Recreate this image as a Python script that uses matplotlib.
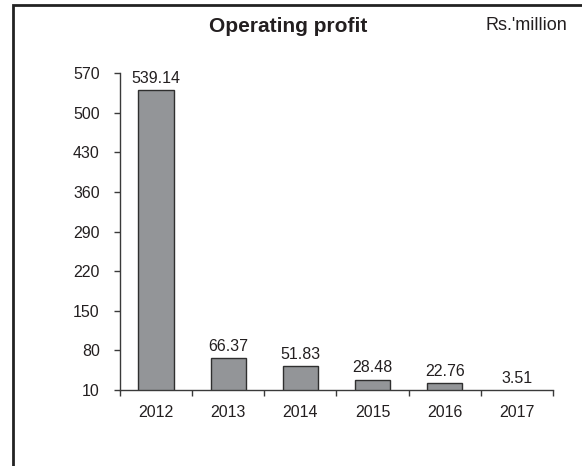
import numpy as np
import matplotlib
matplotlib.use("Agg")
import matplotlib.pyplot as plt
from matplotlib.patches import Rectangle

# data
years = ["2012", "2013", "2014", "2015", "2016", "2017"]
profit = [539.14, 66.37, 51.83, 28.48, 22.76, 3.51]
yticks = [10, 80, 150, 220, 290, 360, 430, 500, 570]

plt.rcParams['font.family'] = ['Liberation Sans', 'DejaVu Sans']
txt = '#231f20'
axcol = '#3a3a3a'

fig = plt.figure(figsize=(5.82, 4.66), dpi=100)
ax = fig.add_axes([120 / 582, 76 / 466, 433 / 582, 317 / 466])

x = np.arange(len(years))
ax.bar(x, profit, width=0.49, color='#939598', edgecolor='#2f2f2f', linewidth=1.0, zorder=2)

ymin, ymax = yticks[0], yticks[-1]
ax.set_ylim(ymin, ymax)
ax.set_xlim(-0.5, len(years) - 0.5)

# value labels above bars (bars below axis floor get label at the floor)
for xi, v in zip(x, profit):
    ax.annotate(f"{v:.2f}", (xi, max(v, ymin)), xytext=(0, 3), textcoords='offset points',
                ha='center', va='bottom', fontsize=11.5, color=txt)

ax.set_yticks(yticks)
ax.set_yticklabels([str(t) for t in yticks])
# ticks at category boundaries, labels at centres
ax.set_xticks(np.arange(-0.5, len(years), 1.0))
ax.set_xticklabels([])
ax.set_xticks(x, minor=True)
ax.set_xticklabels(years, minor=True)
ax.tick_params(axis='x', which='minor', length=0, pad=11, labelsize=11.5, labelcolor=txt)
ax.tick_params(axis='x', which='major', direction='out', length=4.5, width=1, color=axcol)
ax.tick_params(axis='y', direction='out', length=4.5, width=1, color=axcol, pad=10,
               labelsize=11.5, labelcolor=txt)

for s in ['top', 'right']:
    ax.spines[s].set_visible(False)
for s in ['left', 'bottom']:
    ax.spines[s].set_color(axcol)
    ax.spines[s].set_linewidth(1)

fig.text(288 / 582, 1 - 26 / 466, "Operating profit", ha='center', va='center',
         fontsize=15, fontweight='bold', color=txt)
fig.text(567 / 582, 1 - 25 / 466, "Rs.'million", ha='right', va='center',
         fontsize=13, color=txt)

# outer frame, runs off the right and bottom edges
fig.patches.append(Rectangle((12.5 / 582, -0.1), 2, 1 - 5.5 / 466 + 0.1,
                             transform=fig.transFigure, fill=False,
                             edgecolor='#222222', linewidth=2))

fig.savefig('out.png', dpi=100)
